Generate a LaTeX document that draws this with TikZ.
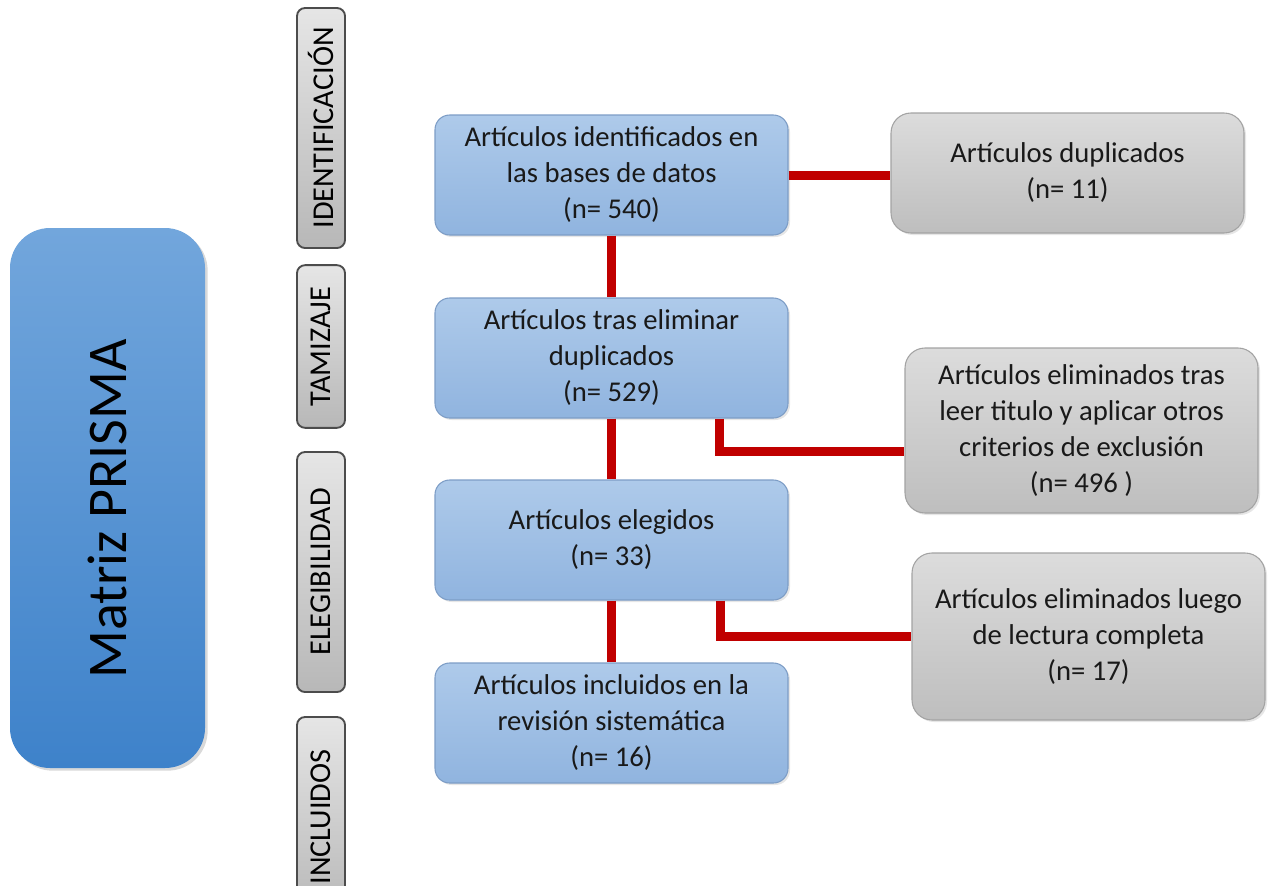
\documentclass[tikz,border=0pt]{standalone}
\usepackage{fontspec}
\setmainfont{Carlito}
\usetikzlibrary{calc,shadows}

\definecolor{linkred}{HTML}{C00000}
\definecolor{bluetop}{HTML}{AECAEA}
\definecolor{bluebot}{HTML}{90B4DF}
\definecolor{blueline}{HTML}{7D9DC6}
\definecolor{greytop}{HTML}{DCDCDC}
\definecolor{greybot}{HTML}{BEBEBE}
\definecolor{greyline}{HTML}{A3A3A3}
\definecolor{titletop}{HTML}{72A6DC}
\definecolor{titlebot}{HTML}{3E82CA}

\tikzset{every picture/.style={x=0.75pt, y=-0.75pt}}
\tikzset{flow box/.style={rectangle, align=center, line width=0.8pt,
    minimum width=264.75pt, minimum height=90pt, text=black!90,
    font=\fontsize{21.5}{27}\selectfont,
    drop shadow={opacity=0.2, shadow xshift=1.5pt, shadow yshift=-1.5pt}}}
\tikzset{blue box/.style={flow box, rounded corners=11pt, draw=blueline,
    top color=bluetop, bottom color=bluebot}}
\tikzset{grey box/.style={flow box, rounded corners=15pt, draw=greyline,
    top color=greytop, bottom color=greybot}}
\tikzset{stage label/.style={rectangle, rounded corners=6pt, draw=black!70,
    line width=1.4pt, top color=black!10, middle color=white,
    bottom color=black!28, minimum height=36pt, rotate=90,
    font=\fontsize{22.7}{26}\selectfont, text=black}}
\tikzset{link/.style={draw=linkred, line width=6.75pt, line join=miter}}

\begin{document}
\begin{tikzpicture}
    \useasboundingbox (0,0) rectangle (1273,885);
    \clip (0,0) rectangle (1273,885);
    % title
    \node[rectangle, rounded corners=30pt, top color=titletop, bottom color=titlebot,
        minimum width=146.25pt, minimum height=405pt,
        drop shadow={opacity=0.3, shadow xshift=2pt, shadow yshift=-2pt}]
        (title) at (107.5,498) {};
    \node[rotate=90, font=\fontsize{42}{48}\selectfont] (title text) at (107.5,509) {Matriz PRISMA};
    % stages
    \node[stage label, minimum width=180pt] (ident) at (321,128) {IDENTIFICACIÓN};
    \node[stage label, minimum width=122pt] (tamiz) at (321,346.5) {TAMIZAJE};
    \node[stage label, minimum width=180pt] (eleg) at (321,572) {ELEGIBILIDAD};
    \node[stage label, minimum width=150pt] (incl) at (321,817) {INCLUIDOS};
    % main column
    \node[blue box] (found) at (611.5,175) {Artículos identificados en\\las bases de datos\\(n= 540)};
    \node[blue box] (nodup) at (611.5,358) {Artículos tras eliminar\\duplicados\\(n= 529)};
    \node[blue box] (chosen) at (611.5,540) {Artículos elegidos\\(n= 33)};
    \node[blue box] (review) at (611.5,723) {Artículos incluidos en la\\revisión sistemática\\(n= 16)};
    % excluded
    \node[grey box] (dup) at (1067.5,173) {Artículos duplicados\\(n= 11)};
    \node[grey box, minimum height=123.75pt] (title out) at (1081.5,430.5)
        {Artículos eliminados tras\\leer titulo y aplicar otros\\criterios de exclusión\\(n= 496 )};
    \node[grey box, minimum height=125.25pt] (read out) at (1088.5,636.5)
        {Artículos eliminados luego\\de lectura completa\\(n= 17)};
    % links
    \draw[link] (found.east) -- (found.east -| dup.west);
    \draw[link] (found.south) -- (nodup.north);
    \draw[link] (nodup.south) -- (chosen.north);
    \draw[link] (chosen.south) -- (review.north);
    \draw[link] ($(nodup.south)+(107.5,0)$) |- ($(title out.west)+(0,20.5)$);
    \draw[link] ($(chosen.south)+(108.5,0)$) |- (read out.west);
\end{tikzpicture}
\end{document}
